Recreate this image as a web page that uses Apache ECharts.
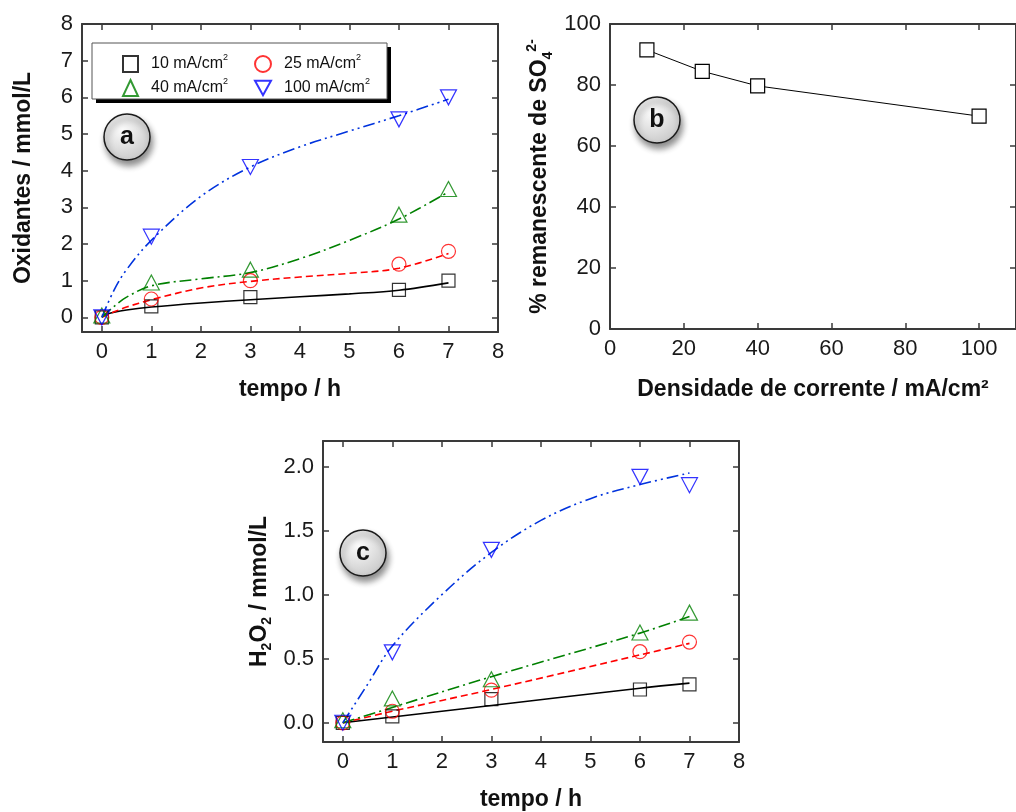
<!DOCTYPE html>
<html>
<head>
<meta charset="utf-8">
<script src="https://cdn.jsdelivr.net/npm/echarts@6/dist/echarts.min.js"></script>
<style>html,body{margin:0;padding:0;background:#fff;}#c{width:1016px;height:812px;}</style>
</head>
<body>
<div id="c"></div>
<script>
// ---------- DATA ----------
const timeH = [0, 1, 3, 6, 7];
// Panel a: oxidants (mmol/L)
const oxi10 = [0, 0.3, 0.55, 0.75, 1.0];
const oxi25 = [0, 0.5, 1.0, 1.45, 1.8];
const oxi40 = [0.05, 0.95, 1.3, 2.8, 3.5];
const oxi100 = [0, 2.2, 4.1, 5.4, 6.0];
// fitted curves
const fitTimeA = [0, 0.25, 0.5, 1, 2, 3, 4, 5, 6, 7];
const oxiFit10 = [0.05, 0.14, 0.2, 0.28, 0.39, 0.48, 0.56, 0.64, 0.74, 0.94];
const oxiFit25 = [0, 0.15, 0.28, 0.48, 0.8, 0.98, 1.1, 1.2, 1.34, 1.74];
const oxiFit40 = [0, 0.3, 0.55, 0.86, 1.05, 1.22, 1.6, 2.1, 2.68, 3.42];
const oxiFit100 = [0, 0.75, 1.3, 2.1, 3.3, 4.1, 4.65, 5.08, 5.5, 5.95];
// Panel b: remaining sulfate (%)
const density = [10, 25, 40, 100];
const sulfateRemain = [91.5, 84.5, 79.7, 69.8];
// Panel c: H2O2 (mmol/L)
const h2o2_10 = [0, 0.05, 0.185, 0.26, 0.30];
const h2o2_25 = [0, 0.09, 0.255, 0.555, 0.63];
const h2o2_40 = [0.02, 0.19, 0.34, 0.705, 0.86];
const h2o2_100 = [0, 0.55, 1.35, 1.92, 1.855];
const fitTimeC = [0, 1, 3, 6, 7];
const h2o2Fit10 = [0, 0.045, 0.135, 0.27, 0.31];
const h2o2Fit25 = [0, 0.09, 0.26, 0.53, 0.62];
const h2o2Fit40 = [0, 0.12, 0.36, 0.70, 0.83];
const fitTimeC100 = [0, 0.5, 1, 2, 3, 4, 5, 6, 7];
const h2o2Fit100 = [0, 0.3, 0.6, 1.0, 1.33, 1.58, 1.75, 1.86, 1.95];
// tick labels
const ticksTime = [0, 1, 2, 3, 4, 5, 6, 7, 8];
const ticksOxi = [0, 1, 2, 3, 4, 5, 6, 7, 8];
const ticksDensity = [0, 20, 40, 60, 80, 100];
const ticksPercent = [0, 20, 40, 60, 80, 100];
const ticksH2O2 = [0, 0.5, 1.0, 1.5, 2.0];
const seriesNames = ['10 mA/cm²', '25 mA/cm²', '40 mA/cm²', '100 mA/cm²'];

// ---------- STYLE ----------
const FONT = 'Liberation Sans, Arial, sans-serif';
const AXC = '#3a3a3a';
const colors = ['#000000', '#ff0000', '#008000', '#0000ff'];
const fitColors = ['#000000', '#ff0000', '#008000', '#0033dd'];
const dashes = ['solid', [7, 4], [12, 4, 2, 4], [12, 4, 2, 4, 2, 4]];
const symbols = ['rect', 'circle', 'triangle', 'path://M0,0 L10,0 L5,9 Z'];
const symSize = [13, 14, [16, 15], [16, 15]];
const TITLE = { fontFamily: FONT, fontSize: 23, fontWeight: 'bold', color: '#111' };

function zip(xs, ys) { return xs.map((x, i) => [x, ys[i]]); }

function axisBase(gridIndex, pos, min, max, ticks, showLabel, fmt) {
  return {
    type: 'value', gridIndex: gridIndex, position: pos, min: min, max: max,
    axisLine: { show: true, onZero: false, lineStyle: { color: AXC, width: 2 } },
    axisTick: { show: true, inside: true, length: 6, customValues: ticks, lineStyle: { color: AXC, width: 1.5 } },
    axisLabel: { show: showLabel, customValues: ticks, fontFamily: FONT, fontSize: 22, color: '#1a1a1a', margin: 9,
      formatter: fmt || (v => String(v)) },
    splitLine: { show: false }
  };
}

const xAxes = [
  Object.assign(axisBase(0, 'bottom', -0.4, 8, ticksTime, true), { name: 'tempo / h', nameLocation: 'middle', nameGap: 46,
    nameTextStyle: TITLE }),
  axisBase(0, 'top', -0.4, 8, ticksTime, false),
  Object.assign(axisBase(1, 'bottom', 0, 110, ticksDensity, true), { name: 'Densidade de corrente / mA/cm²', nameLocation: 'middle', nameGap: 49,
    nameTextStyle: TITLE }),
  axisBase(1, 'top', 0, 110, ticksDensity, false),
  Object.assign(axisBase(2, 'bottom', -0.4, 8, ticksTime, true), { name: 'tempo / h', nameLocation: 'middle', nameGap: 46,
    nameTextStyle: TITLE }),
  axisBase(2, 'top', -0.4, 8, ticksTime, false)
];

const yAxes = [
  Object.assign(axisBase(0, 'left', -0.4, 8, ticksOxi, true), { name: 'Oxidantes / mmol/L', nameLocation: 'middle', nameGap: 47,
    nameTextStyle: TITLE }),
  axisBase(0, 'right', -0.4, 8, ticksOxi, false),
  Object.assign(axisBase(1, 'left', 0, 100, ticksPercent, true), {
    name: '{t|% remanescente de SO}{sub|4}{sup|2-}', nameLocation: 'middle', nameGap: 55,
    nameTextStyle: Object.assign({}, TITLE, {
      rich: {
        t: Object.assign({}, TITLE, { lineHeight: 30 }),
        sub: { fontFamily: FONT, fontSize: 14, fontWeight: 'bold', color: '#111', verticalAlign: 'bottom', lineHeight: 14 },
        sup: { fontFamily: FONT, fontSize: 14, fontWeight: 'bold', color: '#111', verticalAlign: 'top', lineHeight: 14 }
      } }) }),
  axisBase(1, 'right', 0, 100, ticksPercent, false),
  Object.assign(axisBase(2, 'left', -0.15, 2.2, ticksH2O2, true, v => v.toFixed(1)), {
    name: '{t|H}{sub|2}{t|O}{sub|2}{t| / mmol/L}', nameLocation: 'middle', nameGap: 49,
    nameTextStyle: Object.assign({}, TITLE, {
      rich: {
        t: Object.assign({}, TITLE, { lineHeight: 28 }),
        sub: { fontFamily: FONT, fontSize: 14, fontWeight: 'bold', color: '#111', verticalAlign: 'bottom', lineHeight: 14 }
      } }) }),
  axisBase(2, 'right', -0.15, 2.2, ticksH2O2, false)
];

const series = [];
const oxiData = [oxi10, oxi25, oxi40, oxi100];
const oxiFits = [oxiFit10, oxiFit25, oxiFit40, oxiFit100];
const h2o2Data = [h2o2_10, h2o2_25, h2o2_40, h2o2_100];
const h2o2Fits = [[fitTimeC, h2o2Fit10], [fitTimeC, h2o2Fit25], [fitTimeC, h2o2Fit40], [fitTimeC100, h2o2Fit100]];

for (let i = 0; i < 4; i++) {
  series.push({ type: 'line', name: 'fitA' + i, xAxisIndex: 0, yAxisIndex: 0, data: zip(fitTimeA, oxiFits[i]),
    smooth: 0.35, showSymbol: false, silent: true, z: 2,
    lineStyle: { color: fitColors[i], width: 1.6, type: dashes[i] } });
  series.push({ type: 'line', name: 'fitC' + i, xAxisIndex: 4, yAxisIndex: 4, data: zip(h2o2Fits[i][0], h2o2Fits[i][1]),
    smooth: 0.35, showSymbol: false, silent: true, z: 2,
    lineStyle: { color: fitColors[i], width: 1.6, type: dashes[i] } });
}
for (let i = 0; i < 4; i++) {
  const common = { symbol: symbols[i], symbolSize: symSize[i], z: 3,
    itemStyle: { color: 'rgba(255,255,255,0)', borderColor: colors[i], borderWidth: 1.2 } };
  series.push(Object.assign({ type: 'scatter', name: seriesNames[i], xAxisIndex: 0, yAxisIndex: 0, data: zip(timeH, oxiData[i]) }, common));
  series.push(Object.assign({ type: 'scatter', name: seriesNames[i], xAxisIndex: 4, yAxisIndex: 4, data: zip(timeH, h2o2Data[i]) }, common));
}
series.push({ type: 'line', name: 'sulfate', xAxisIndex: 2, yAxisIndex: 2, data: zip(density, sulfateRemain),
  symbol: 'rect', symbolSize: 14, showAllSymbol: true, z: 3,
  lineStyle: { color: '#000', width: 1 },
  itemStyle: { color: '#fff', borderColor: '#000', borderWidth: 1.2 } });

const legendText = {
  fontFamily: FONT, fontSize: 16, color: '#111', padding: [0, 0, 0, 8],
  rich: {
    n: { fontFamily: FONT, fontSize: 16, color: '#111', lineHeight: 22 },
    s: { fontFamily: FONT, fontSize: 9, color: '#111', verticalAlign: 'top', lineHeight: 9 }
  }
};
const legendFmt = name => '{n|' + name.replace('²', '') + '}{s|2}';

function badge(cx, cy, letter) {
  return {
    type: 'group', x: cx, y: cy, z: 50,
    children: [
      { type: 'circle', shape: { cx: 0, cy: 0, r: 23 },
        style: { fill: { type: 'radial', x: 0.4, y: 0.35, r: 0.75,
          colorStops: [{ offset: 0, color: '#fbfbfb' }, { offset: 1, color: '#c4c4c4' }] },
          stroke: '#1a1a1a', lineWidth: 1.5,
          shadowBlur: 6, shadowOffsetX: 2, shadowOffsetY: 5, shadowColor: 'rgba(0,0,0,0.45)' } },
      { type: 'text', x: 0, y: 0, style: { text: letter, fontFamily: FONT, fontSize: 25, fontWeight: 'bold', fill: '#111',
        align: 'center', verticalAlign: 'middle' } }
    ]
  };
}

const option = {
  backgroundColor: '#ffffff',
  animation: false,
  grid: [
    { left: 82, top: 24, width: 416, height: 308 },
    { left: 610, top: 24, width: 412, height: 305 },
    { left: 323, top: 441, width: 416, height: 307 }
  ],
  xAxis: xAxes,
  yAxis: yAxes,
  legend: [
    { data: [seriesNames[0], seriesNames[2]], orient: 'vertical', left: 122, top: 53, itemWidth: 15, itemHeight: 16,
      itemGap: 4, padding: 0, selectedMode: false, textStyle: legendText, formatter: legendFmt, z: 40 },
    { data: [seriesNames[1], seriesNames[3]], orient: 'vertical', left: 254, top: 53, itemWidth: 16, itemHeight: 16,
      itemGap: 4, padding: 0, selectedMode: false, textStyle: legendText, formatter: legendFmt, z: 40 }
  ],
  graphic: [
    { type: 'rect', z: 30, shape: { x: 96, y: 47, width: 295, height: 56 }, style: { fill: '#000' } },
    { type: 'rect', z: 31, shape: { x: 92, y: 43, width: 295, height: 56 }, style: { fill: '#fff', stroke: '#555', lineWidth: 1 } },
    badge(127, 137, 'a'),
    badge(657, 120, 'b'),
    badge(363, 553, 'c')
  ],
  series: series
};

const chart = echarts.init(document.getElementById('c'), null, { renderer: 'canvas' });
chart.setOption(option);
</script>
</body>
</html>
